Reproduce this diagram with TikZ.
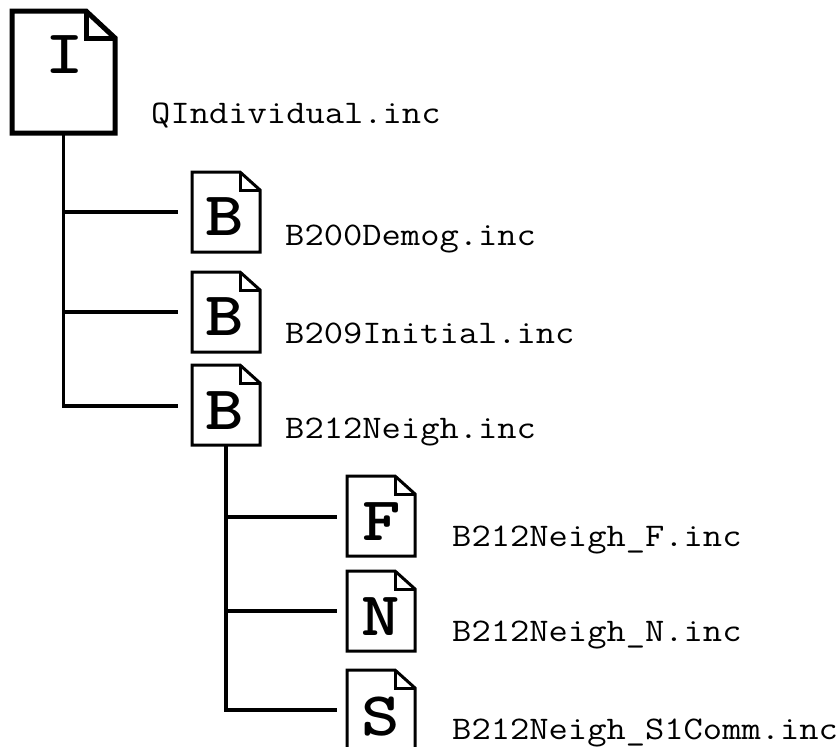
\documentclass[tikz,border=0pt]{standalone}
\usepackage{fontspec}
\tikzset{
  docbox/.style={draw=none,inner sep=0pt,outer sep=0pt,minimum width=68pt,minimum height=80pt,anchor=north west},
  bigbox/.style={docbox,minimum width=103pt,minimum height=122pt},
  wire/.style={line width=3.3pt,black,line cap=butt},
  filename/.style={inner sep=0pt,anchor=base west,xscale=1.135,font=\fontsize{33pt}{36pt}\selectfont\ttfamily},
  letter/.style={inner sep=0pt,anchor=base,xscale=1.18,font=\fontsize{62pt}{66pt}\selectfont\ttfamily\bfseries},
}
% outline of a page with a folded corner, around a named node
\newcommand{\pageoutline}[4]{% node, fold width, fold height, line width
  \draw[line width=#4,line join=miter]
    (#1.north west) -- ([xshift=-#2]#1.north east) -- ([yshift=-#3]#1.north east)
    -- (#1.south east) -- (#1.south west) -- cycle;
  \draw[line width=#4,line join=miter]
    ([xshift=-#2]#1.north east) -- ([xshift=-#2,yshift=-#3]#1.north east) -- ([yshift=-#3]#1.north east);
}
\begin{document}
\begin{tikzpicture}[x=1pt,y=-1pt]
\useasboundingbox (0,0) rectangle (839,747);
\clip (0,0) rectangle (839,747);
\fill[white] (0,0) rectangle (839,747);

\node[bigbox] (I) at (12,11) {};
\node[docbox] (B1) at (192,172) {};
\node[docbox] (B2) at (192,272) {};
\node[docbox] (B3) at (192,365) {};
\node[docbox] (F) at (347,476) {};
\node[docbox] (N) at (347,571) {};
\node[docbox] (S) at (347,670) {};

\pageoutline{I}{29pt}{27pt}{5pt}
\foreach \n in {B1,B2,B3,F,N,S} {\pageoutline{\n}{20pt}{18pt}{3pt}}

\node[letter] (lI) at (65,73) {I};
\node[letter] (lB1) at (225,235) {B};
\node[letter] (lB2) at (225,335) {B};
\node[letter] (lB3) at (225,429) {B};
\node[letter] (lF) at (382,540) {F};
\node[letter] (lN) at (381,635) {N};
\node[letter] (lS) at (381,735) {S};

\node[filename] (tI) at (151,123) {QIndividual.inc};
\node[filename] (tB1) at (285,245) {B200Demog.inc};
\node[filename] (tB2) at (285,343) {B209Initial.inc};
\node[filename] (tB3) at (285,438) {B212Neigh.inc};
\node[filename] (tF) at (452,546) {B212Neigh\_F.inc};
\node[filename] (tN) at (452,641) {B212Neigh\_N.inc};
\node[filename] (tS) at (452,739) {B212Neigh\_S1Comm.inc};

\coordinate (a1) at (I.south |- 0,212);
\coordinate (a2) at (I.south |- 0,312);
\coordinate (a3) at (I.south |- 0,406);
\coordinate (b1) at (B3.south |- 0,517);
\coordinate (b2) at (B3.south |- 0,611);
\coordinate (b3) at (B3.south |- 0,710);
\coordinate (e1) at (178,212);
\coordinate (e2) at (178,312);
\coordinate (e3) at (178,406);
\coordinate (f1) at (337,517);
\coordinate (f2) at (337,611);
\coordinate (f3) at (337,710);

\draw[wire] (I.south) -- (a3) -- (e3);
\draw[wire] (a1) -- (e1);
\draw[wire] (a2) -- (e2);
\draw[wire] (B3.south) -- (b3) -- (f3);
\draw[wire] (b1) -- (f1);
\draw[wire] (b2) -- (f2);
\end{tikzpicture}
\end{document}
